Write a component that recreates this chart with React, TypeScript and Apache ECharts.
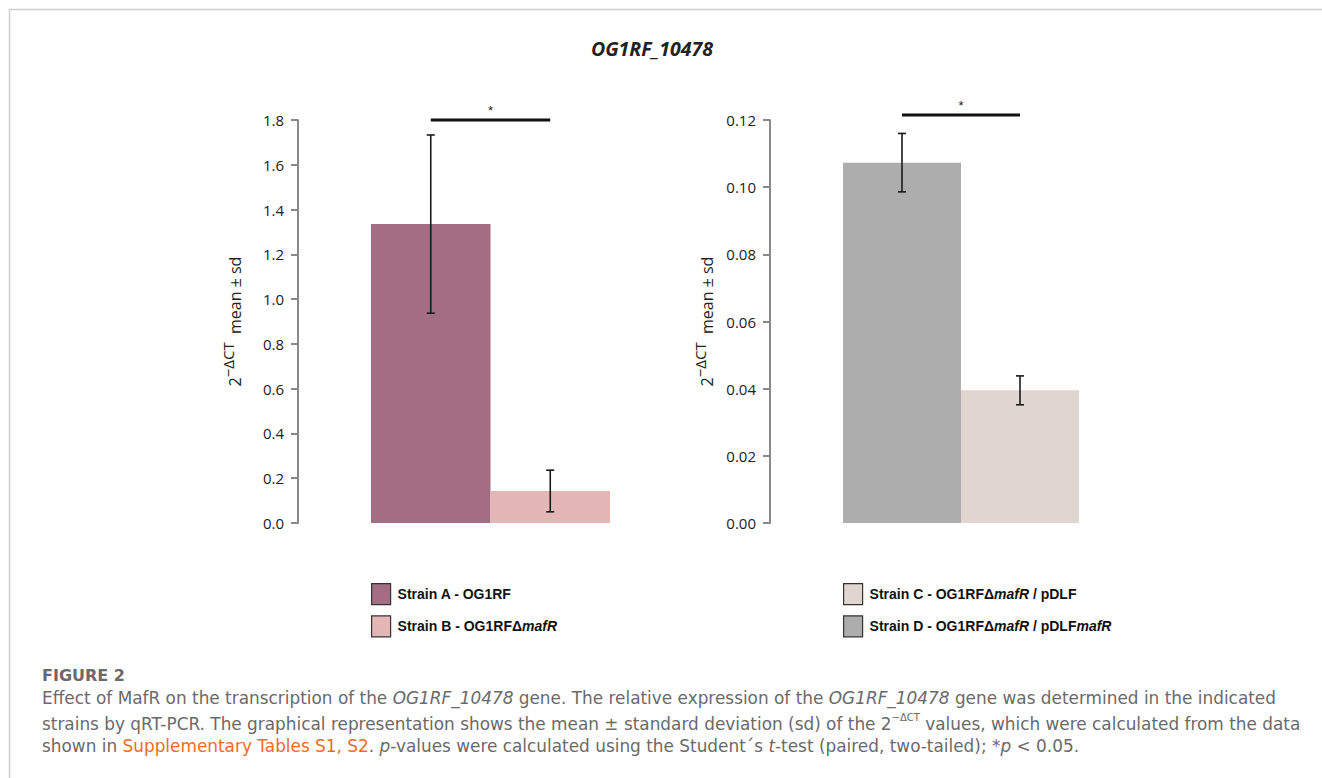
import React, { useEffect, useRef } from "react";
import * as echarts from "echarts";

const leftStrains = ["Strain A - OG1RF", "Strain B - OG1RFΔmafR"];
const leftMeans = [1.335, 0.143];
const leftSd = [0.398, 0.093];
const rightStrains = ["Strain D - OG1RFΔmafR / pDLFmafR", "Strain C - OG1RFΔmafR / pDLF"];
const rightMeans = [0.1073, 0.0395];
const rightSd = [0.0087, 0.0043];
const leftColors = ["#a36e81", "#e4b6b6"];
const rightColors = ["#adadad", "#e1d5cf"];
const leftTicks = { min: 0, max: 1.8, interval: 0.2, digits: 1 };
const rightTicks = { min: 0, max: 0.12, interval: 0.02, digits: 2 };
const leftSig = { from: 0, to: 1, level: 1.8, label: "*" };
const rightSig = { from: 0, to: 1, level: 0.1215, label: "*" };
const legendLeftOrder = ["Strain A - OG1RF", "Strain B - OG1RFΔmafR"];
const legendRightOrder = ["Strain C - OG1RFΔmafR / pDLF", "Strain D - OG1RFΔmafR / pDLFmafR"];

const legendFormat = (name: string) =>
  name
    .split("mafR")
    .map((p) => (p ? `{b|${p}}` : ""))
    .join("{bi|mafR}");

export default function App() {
  const ref = useRef<HTMLDivElement>(null);
  useEffect(() => {
    if (!ref.current) return;
    const chart = echarts.init(ref.current, null, { renderer: "svg" });

    const errRender = (params: any, api: any) => {
      const x = api.value(0);
      const lo = api.coord([x, api.value(1)]);
      const hi = api.coord([x, api.value(2)]);
      const w = 4;
      const st = { stroke: "#1a1a1a", lineWidth: 1.6 };
      return {
        type: "group",
        children: [
          { type: "line", shape: { x1: lo[0], y1: lo[1], x2: hi[0], y2: hi[1] }, style: st },
          { type: "line", shape: { x1: lo[0] - w, y1: lo[1], x2: lo[0] + w, y2: lo[1] }, style: st },
          { type: "line", shape: { x1: hi[0] - w, y1: hi[1], x2: hi[0] + w, y2: hi[1] }, style: st },
        ],
      };
    };
    const sigRender = (params: any, api: any) => {
      const a = api.coord([api.value(0), api.value(2)]);
      const b = api.coord([api.value(1), api.value(2)]);
      return {
        type: "group",
        children: [
          { type: "line", shape: { x1: a[0], y1: a[1], x2: b[0], y2: b[1] }, style: { stroke: "#111", lineWidth: 3 } },
          {
            type: "text",
            style: { text: "*", x: (a[0] + b[0]) / 2, y: a[1] - 3, align: "center", verticalAlign: "bottom", fontSize: 13, fill: "#222", fontFamily: "Liberation Sans" },
          },
        ],
      };
    };

    const yAxisBase = (t: any, gridIndex: number) => ({
      type: "value",
      gridIndex,
      min: t.min,
      max: t.max,
      interval: t.interval,
      offset: 73,
      splitLine: { show: false },
      axisLine: { show: true, lineStyle: { color: "#8a8a8a", width: 2 } },
      axisTick: { show: true, inside: false, length: 7, lineStyle: { color: "#8a8a8a", width: 2 } },
      axisLabel: { formatter: (v: number) => v.toFixed(t.digits), color: "#222", fontSize: 15, fontFamily: "Open Sans", margin: 14 },
      name: "{b|2}{s|−ΔCT}{b|  mean ± sd}",
      nameLocation: "middle",
      nameGap: 55,
      nameRotate: 90,
      nameTextStyle: {
        rich: {
          b: { fontSize: 16, color: "#222", fontFamily: "Open Sans", verticalAlign: "bottom", lineHeight: 23 },
          s: { fontSize: 15, color: "#222", fontFamily: "Open Sans", verticalAlign: "top", lineHeight: 23 },
        },
      },
    });
    const xAxisBase = (cats: string[], gridIndex: number) => ({
      type: "category",
      gridIndex,
      data: cats,
      axisLine: { show: false },
      axisTick: { show: false },
      axisLabel: { show: false },
    });

    const barSeries = (names: string[], means: number[], colors: string[], idx: number) =>
      names.map((n, i) => ({
        type: "bar",
        name: n,
        xAxisIndex: idx,
        yAxisIndex: idx,
        data: means.map((m, j) => (j === i ? m : "-")),
        barGap: "-100%",
        barCategoryGap: 0,
        itemStyle: { color: colors[i] },
      }));

    const legendCommon = {
      orient: "vertical",
      itemWidth: 19,
      itemHeight: 21,
      itemGap: 10,
      icon: "rect",
      selectedMode: false,
      formatter: legendFormat,
      itemStyle: { borderColor: "#333", borderWidth: 1.2 },
      textStyle: {
        padding: [0, 0, 0, 2],
        rich: {
          b: { fontFamily: "Liberation Sans", fontWeight: "bold", fontSize: 14, color: "#111" },
          bi: { fontFamily: "Liberation Sans", fontWeight: "bold", fontStyle: "italic", fontSize: 14, color: "#111" },
        },
      },
    };

    const CF = "DejaVu Sans";
    const CS = 16.9;
    const CC = "#6a6a6a";
    const capRich = {
      n: { fontFamily: CF, fontSize: CS, fill: CC },
      i: { fontFamily: CF, fontSize: CS, fill: CC, fontStyle: "italic" },
      o: { fontFamily: CF, fontSize: CS, fill: "#f26b21" },
      s: { fontFamily: CF, fontSize: 10, fill: CC, verticalAlign: "top", lineHeight: 20 },
      m: { fontFamily: CF, fontSize: CS, fill: CC, verticalAlign: "bottom", lineHeight: 20 },
    };
    const CX = 42;

    chart.setOption({
      animation: false,
      grid: [
        { left: 371, width: 239, top: 120, height: 403 },
        { left: 843, width: 236, top: 120, height: 403 },
      ],
      xAxis: [xAxisBase(leftStrains, 0), xAxisBase(rightStrains, 1)],
      yAxis: [yAxisBase(leftTicks, 0), yAxisBase(rightTicks, 1)],
      legend: [
        { ...legendCommon, left: 366, top: 578, data: legendLeftOrder },
        { ...legendCommon, left: 838, top: 578, data: legendRightOrder },
      ],
      series: [
        ...barSeries(leftStrains, leftMeans, leftColors, 0),
        ...barSeries(rightStrains, rightMeans, rightColors, 1),
        {
          type: "custom",
          xAxisIndex: 0,
          yAxisIndex: 0,
          renderItem: errRender,
          data: leftMeans.map((m, i) => [i, m - leftSd[i], m + leftSd[i]]),
          z: 5,
        },
        {
          type: "custom",
          xAxisIndex: 1,
          yAxisIndex: 1,
          renderItem: errRender,
          data: rightMeans.map((m, i) => [i, m - rightSd[i], m + rightSd[i]]),
          z: 5,
        },
        {
          type: "custom",
          xAxisIndex: 0,
          yAxisIndex: 0,
          renderItem: sigRender,
          data: [[leftSig.from, leftSig.to, leftSig.level]],
          z: 5,
        },
        {
          type: "custom",
          xAxisIndex: 1,
          yAxisIndex: 1,
          renderItem: sigRender,
          data: [[rightSig.from, rightSig.to, rightSig.level]],
          z: 5,
        },
      ],
      graphic: [
        { type: "line", shape: { x1: 9, y1: 9.5, x2: 1322, y2: 9.5 }, style: { stroke: "#cfcfcf", lineWidth: 1.5 } },
        { type: "line", shape: { x1: 9.5, y1: 9, x2: 9.5, y2: 778 }, style: { stroke: "#cfcfcf", lineWidth: 1.5 } },
        {
          type: "text",
          x: 652,
          y: 48,
          style: { text: "OG1RF_10478", align: "center", verticalAlign: "middle", fontFamily: "Open Sans", fontWeight: "bold", fontStyle: "italic", fontSize: 19.5, fill: "#222" },
        },
        {
          type: "text",
          x: CX,
          y: 675,
          style: { text: "FIGURE 2", verticalAlign: "middle", fontFamily: CF, fontWeight: "bold", fontSize: 16, fill: "#6a6a6a" },
        },
        {
          type: "text",
          x: CX,
          y: 698,
          style: {
            text: "{n|Effect of MafR on the transcription of the }{i|OG1RF_10478}{n| gene. The relative expression of the }{i|OG1RF_10478}{n| gene was determined in the indicated}",
            verticalAlign: "middle",
            rich: capRich,
          },
        },
        {
          type: "text",
          x: CX,
          y: 722,
          style: {
            text: "{m|strains by qRT-PCR. The graphical representation shows the mean ± standard deviation (sd) of the 2}{s|−ΔCT}{m| values, which were calculated from the data}",
            verticalAlign: "middle",
            rich: capRich,
          },
        },
        {
          type: "text",
          x: CX,
          y: 746,
          style: {
            text: "{n|shown in }{o|Supplementary Tables S1, S2}{n|. }{i|p}{n|-values were calculated using the Student´s }{i|t}{n|-test (paired, two-tailed); *}{i|p}{n| < 0.05.}",
            verticalAlign: "middle",
            rich: capRich,
          },
        },
      ],
    });
    return () => chart.dispose();
  }, []);
  return <div ref={ref} style={{ position: "fixed", left: 0, top: 0, width: 1322, height: 778, background: "#fff" }} />;
}
